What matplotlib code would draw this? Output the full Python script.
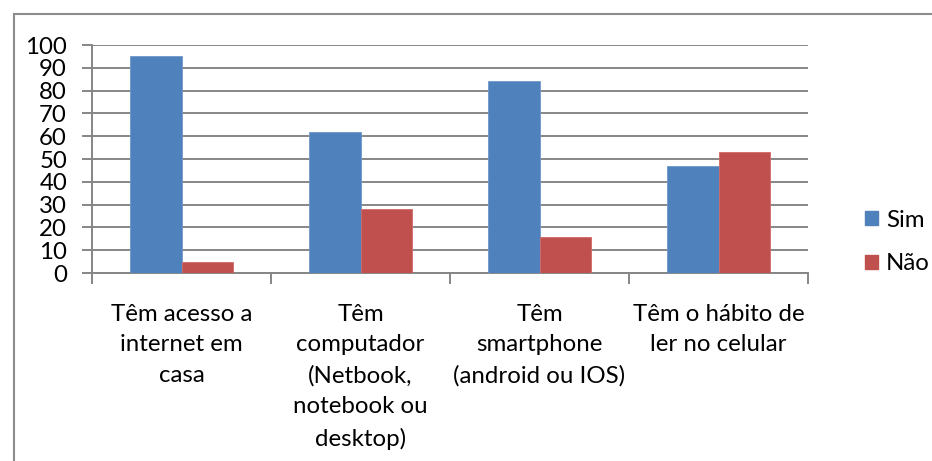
import matplotlib
matplotlib.use("Agg")
import matplotlib.pyplot as plt
import numpy as np
from matplotlib.patches import Rectangle

categories = ["Têm acesso a\ninternet em\ncasa",
              "Têm\ncomputador\n(Netbook,\nnotebook ou\ndesktop)",
              "Têm\nsmartphone\n(android ou IOS)",
              "Têm o hábito de\nler no celular"]
sim = [95, 62, 84, 47]
nao = [5, 28, 16, 53]
series_names = ["Sim", "Não"]
yticks = list(range(0, 101, 10))

plt.rcParams['font.family'] = ['Lato', 'DejaVu Sans']
FS = 17.3

fig = plt.figure(figsize=(9.32, 4.61), dpi=100)
W, H = 932, 461
ax = fig.add_axes([92 / W, 1 - 273 / H, (808 - 92) / W, (273 - 45) / H])

blue = "#4F81BD"
red = "#C0504D"
grid_c = "#868686"
w = 1 / 3.5
x = np.arange(len(categories))
ax.bar(x - w / 2, sim, width=w, color=blue, edgecolor="#6f97c9", linewidth=0.6, zorder=3, label=series_names[0])
ax.bar(x + w / 2, nao, width=w, color=red, edgecolor="#d06a68", linewidth=0.6, zorder=3, label=series_names[1])

ax.set_xlim(-0.5, len(categories) - 0.5)
ax.set_ylim(0, 100)
ax.set_yticks(yticks)
ax.set_yticklabels([str(v) for v in yticks], fontsize=FS)
ax.yaxis.grid(True, color=grid_c, linewidth=1.4, zorder=0)
ax.set_axisbelow(True)

for s in ["top", "right"]:
    ax.spines[s].set_visible(False)
ax.spines["left"].set_color(grid_c)
ax.spines["left"].set_linewidth(1.4)
ax.spines["bottom"].set_color(grid_c)
ax.spines["bottom"].set_linewidth(1.4)

ax.tick_params(axis="y", length=7, width=1.4, color=grid_c, pad=11)
# category boundary ticks
ax.set_xticks(np.arange(-0.5, len(categories), 1.0))
ax.set_xticklabels([])
ax.tick_params(axis="x", which="major", length=8, width=1.4, color=grid_c)
ax.set_xticks(x, minor=True)
ax.set_xticklabels(categories, minor=True, fontsize=FS, linespacing=1.57, va="top")
ax.tick_params(axis="x", which="minor", length=0, pad=22)

handles = [Rectangle((0, 0), 1, 1, color=blue), Rectangle((0, 0), 1, 1, color=red)]
fig.legend(handles, series_names, loc="center left", bbox_to_anchor=(843 / W, 1 - 242 / H),
           frameon=False, fontsize=FS, handlelength=0.55, handleheight=0.55,
           handletextpad=0.35, labelspacing=0.95)

# chart area border
fig.patches.append(Rectangle((14 / W, -0.1), 1.2, 1 - 14 / H + 0.1, transform=fig.transFigure,
                             fill=False, edgecolor="#8c8c8c", linewidth=1.5))

fig.savefig("out.png", dpi=100)
